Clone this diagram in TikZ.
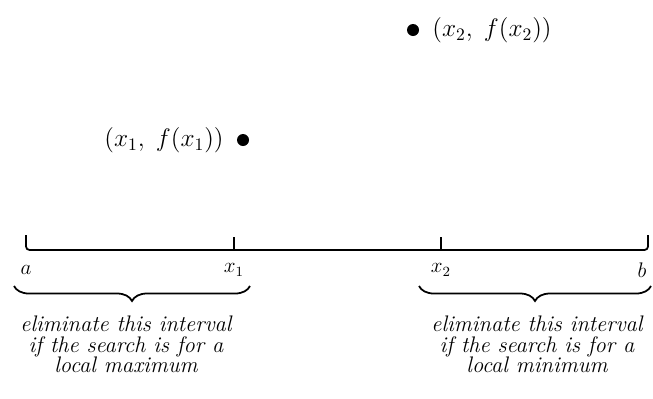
\documentclass[tikz,border=0pt]{standalone}
\usetikzlibrary{decorations.pathreplacing,positioning}

\begin{document}
\begin{tikzpicture}[
  axis/.style={line width=1pt},
  pt/.style={circle, fill=black, inner sep=0pt, minimum size=0.24cm},
  ptlabel/.style={font=\Large, inner sep=1pt},
  endlabel/.style={font=\large\itshape, inner sep=1pt},
  brc/.style={decorate, decoration={brace, mirror, amplitude=0.3cm}, line width=1pt},
  note/.style={align=center, font=\fontsize{12.8}{11.6}\selectfont\itshape}
]
  \useasboundingbox (0,0) rectangle (13.06,-7.96);

  % the interval [a,b] with the two trial points
  \coordinate (a) at (0.52,-5.0);
  \coordinate (x1) at (4.68,-5.0);
  \coordinate (x2) at (8.82,-5.0);
  \coordinate (b) at (12.96,-5.0);
  \coordinate (atop) at (0.52,-4.7);
  \coordinate (btop) at (12.96,-4.7);

  \draw[axis, rounded corners=2pt] (atop) -- (a) -- (b) -- (btop);
  \draw[axis] (x1) -- ++(0,0.27);
  \draw[axis] (x2) -- ++(0,0.27);

  \node[endlabel] (la) at (0.52,-5.4) {$a$};
  \node[endlabel] (lx1) at (4.68,-5.4) {$x_1$};
  \node[endlabel] (lx2) at (8.82,-5.4) {$x_2$};
  \node[endlabel] (lb) at (12.84,-5.4) {$b$};

  % function values
  \node[pt] (p1) at (4.86,-2.8) {};
  \node[ptlabel, left=0.22cm of p1] (f1) {$(x_1,\; f(x_1))$};
  \node[pt] (p2) at (8.26,-0.6) {};
  \node[ptlabel, right=0.22cm of p2] (f2) {$(x_2,\; f(x_2))$};

  % eliminated parts
  \coordinate (bl1) at (0.28,-5.72);
  \coordinate (bl2) at (5.0,-5.72);
  \coordinate (br1) at (8.38,-5.72);
  \coordinate (br2) at (13.02,-5.72);
  \coordinate (tipl) at (2.52,-6.02);
  \coordinate (tipr) at (10.74,-6.02);
  \draw[brc] (bl1) -- (bl2);
  \draw[brc] (br1) -- (br2);

  \node[note, below=0.18cm of tipl] (nmax) {eliminate this interval\\if the search is for a\\local maximum};
  \node[note, below=0.18cm of tipr] (nmin) {eliminate this interval\\if the search is for a\\local minimum};
\end{tikzpicture}
\end{document}
